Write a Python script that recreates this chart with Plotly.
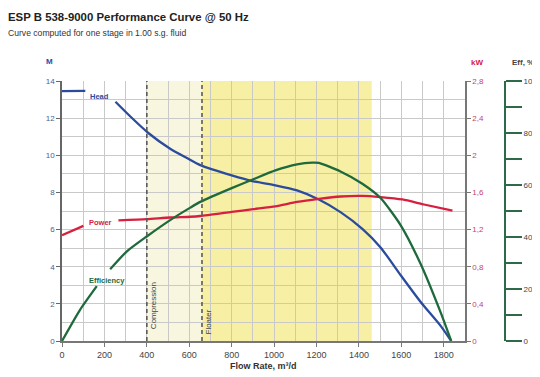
import plotly.graph_objects as go

# ---------------- data ----------------
head_flow = [0, 110, 180, 252, 321, 407, 510, 589, 652, 800, 902, 1006, 1108, 1211, 1313, 1416, 1502, 1597, 1691, 1786, 1835]
head_m = [13.45, 13.47, None, 12.88, 12.1, 11.2, 10.35, 9.85, 9.47, 8.92, 8.60, 8.38, 8.11, 7.62, 6.94, 6.04, 5.04, 3.54, 2.10, 0.80, 0.0]

power_flow = [0, 101, 180, 266, 400, 510, 605, 652, 800, 902, 1006, 1108, 1211, 1313, 1416, 1502, 1605, 1707, 1841]
power_kw = [1.14, 1.24, None, 1.30, 1.313, 1.33, 1.338, 1.346, 1.39, 1.42, 1.45, 1.497, 1.53, 1.556, 1.563, 1.55, 1.524, 1.47, 1.405]

eff_flow = [0, 85, 164, 200, 227, 306, 401, 510, 605, 652, 800, 902, 1006, 1108, 1180, 1211, 1313, 1416, 1502, 1597, 1691, 1786, 1835]
eff_pct = [0, 12.0, 21.1, None, 27.6, 34.5, 40.3, 46.5, 51.3, 53.5, 58.8, 62.2, 65.6, 67.9, 68.6, 68.5, 65.2, 60.5, 55.0, 44.5, 29.6, 10.8, 0]

x_ticks = [0, 200, 400, 600, 800, 1000, 1200, 1400, 1600, 1800]
m_ticks = [0, 2, 4, 6, 8, 10, 12, 14]
kw_ticks = [0, 0.4, 0.8, 1.2, 1.6, 2.0, 2.4, 2.8]
kw_labels = ["0", "0,4", "0,8", "1,2", "1,6", "2", "2,4", "2,8"]
eff_ticks = [0, 20, 40, 60, 80, 100]

compression_flow = 400
floater_flow = 660
yellow_end_flow = 1460

title_text = "ESP B 538-9000 Performance Curve @ 50 Hz"
subtitle_text = "Curve computed for one stage in 1.00 s.g. fluid"

# ---------------- style ----------------
BLUE = "#2b4c9e"
RED = "#d6203f"
GREEN = "#1e6a3c"
GRID = "#c9c9c9"
FONT = "Liberation Sans, Arial, sans-serif"

fig = go.Figure()

fig.add_trace(go.Scatter(x=head_flow, y=head_m, mode="lines", yaxis="y",
                         line=dict(color=BLUE, width=2.3, shape="spline", smoothing=0.6),
                         connectgaps=False, hoverinfo="skip"))
fig.add_trace(go.Scatter(x=power_flow, y=power_kw, mode="lines", yaxis="y2",
                         line=dict(color=RED, width=2.3, shape="spline", smoothing=0.6),
                         connectgaps=False, hoverinfo="skip"))
fig.add_trace(go.Scatter(x=eff_flow, y=eff_pct, mode="lines", yaxis="y3",
                         line=dict(color=GREEN, width=2.3, shape="spline", smoothing=0.6),
                         connectgaps=False, hoverinfo="skip"))

# shaded regions
fig.add_shape(type="rect", xref="x", yref="paper", x0=compression_flow, x1=floater_flow, y0=0, y1=1,
              fillcolor="#f9f6df", line_width=0, layer="below")
fig.add_shape(type="rect", xref="x", yref="paper", x0=floater_flow, x1=yellow_end_flow, y0=0, y1=1,
              fillcolor="#f7efa3", line_width=0, layer="below")
# dashed boundary lines
for fx in (compression_flow, floater_flow):
    fig.add_shape(type="line", xref="x", yref="paper", x0=fx, x1=fx, y0=0, y1=1,
                  line=dict(color="#5a5a5a", width=1.6, dash="4px,3px"), layer="above")

ann = []
ann.append(dict(text="<b>" + title_text + "</b>", xref="paper", yref="paper", x=-0.126, y=1.248,
                xanchor="left", yanchor="middle", showarrow=False,
                font=dict(family=FONT, size=11.4, color="#222")))
ann.append(dict(text=subtitle_text, xref="paper", yref="paper", x=-0.126, y=1.185,
                xanchor="left", yanchor="middle", showarrow=False,
                font=dict(family=FONT, size=8.6, color="#333")))
ann.append(dict(text="<b>M</b>", xref="paper", yref="paper", x=-0.028, y=1.075,
                xanchor="center", yanchor="middle", showarrow=False,
                font=dict(family=FONT, size=8, color=BLUE)))
ann.append(dict(text="<b>kW</b>", xref="paper", yref="paper", x=0.937, y=1.073,
                xanchor="center", yanchor="middle", showarrow=False,
                font=dict(family=FONT, size=8, color=RED)))
ann.append(dict(text="<b>Eff, %</b>", xref="paper", yref="paper", x=1.012, y=1.073,
                xanchor="left", yanchor="middle", showarrow=False,
                font=dict(family=FONT, size=8, color="#444")))
ann.append(dict(text="<b>Flow Rate, m³/d</b>", xref="paper", yref="paper", x=0.455, y=-0.097,
                xanchor="center", yanchor="middle", showarrow=False,
                font=dict(family=FONT, size=9, color="#333")))
ann.append(dict(text="<b>Head</b>", xref="x", yref="y", x=178, y=13.15, showarrow=False,
                font=dict(family=FONT, size=7.5, color=BLUE)))
ann.append(dict(text="<b>Power</b>", xref="x", yref="y", x=183, y=6.36, showarrow=False,
                font=dict(family=FONT, size=7.5, color=RED)))
ann.append(dict(text="<b>Efficiency</b>", xref="x", yref="y", x=213, y=3.28, showarrow=False,
                font=dict(family=FONT, size=7.5, color=GREEN)))
ann.append(dict(text="Compression", xref="x", yref="y", x=431, y=1.9, showarrow=False, textangle=-90,
                font=dict(family=FONT, size=8, color="#444")))
ann.append(dict(text="Floater", xref="x", yref="y", x=693, y=1.05, showarrow=False, textangle=-90,
                font=dict(family=FONT, size=8, color="#444")))

# the page places the figure 8px from the top-left corner, so the canvas is
# 8px smaller and the left/top margins are 8px smaller to keep the plot in place
fig.update_layout(
    width=532, height=369,
    margin=dict(l=54, r=35, t=73, b=36),
    paper_bgcolor="white", plot_bgcolor="white",
    showlegend=False,
    font=dict(family=FONT, size=8, color="#444"),
    annotations=ann,
    xaxis=dict(domain=[0, 403 / 443], range=[0, 1900], tickvals=x_ticks,
               showgrid=True, gridcolor=GRID, gridwidth=1,
               minor=dict(dtick=100, tick0=0, showgrid=True, gridcolor=GRID, gridwidth=1),
               showline=True, linecolor="#777", linewidth=1.5,
               ticks="outside", ticklen=4, tickcolor="#777",
               tickfont=dict(family=FONT, size=9, color="#444"),
               zeroline=False, automargin=False, fixedrange=True),
    yaxis=dict(range=[0, 14], tickvals=m_ticks,
               showgrid=True, gridcolor=GRID, gridwidth=1,
               minor=dict(dtick=1, tick0=0, showgrid=True, gridcolor=GRID, gridwidth=1),
               showline=True, linecolor="#666", linewidth=1.5,
               ticks="outside", ticklen=4, tickcolor="#666",
               tickfont=dict(family=FONT, size=8, color="#4a6090"),
               zeroline=False, automargin=False),
    yaxis2=dict(range=[0, 2.8], tickvals=kw_ticks, ticktext=kw_labels,
                overlaying="y", side="right", anchor="x",
                showgrid=False, zeroline=False,
                showline=True, linecolor="#777", linewidth=1.5,
                ticks="outside", ticklen=4, tickcolor="#777",
                tickfont=dict(family=FONT, size=8, color="#c8406a"),
                automargin=False),
    yaxis3=dict(range=[0, 100], tickvals=eff_ticks,
                overlaying="y", side="right", anchor="free", position=1.0,
                showgrid=False, zeroline=False,
                showline=True, linecolor="#2f6a48", linewidth=2,
                ticks="outside", ticklen=16, tickwidth=1.5, tickcolor="#2f6a48",
                minor=dict(dtick=10, tick0=0, ticks="outside", ticklen=16, tickwidth=1.5,
                           tickcolor="#2f6a48", showgrid=False),
                tickfont=dict(family=FONT, size=8, color="#444"),
                automargin=False),
)

fig.write_html("out.html")
